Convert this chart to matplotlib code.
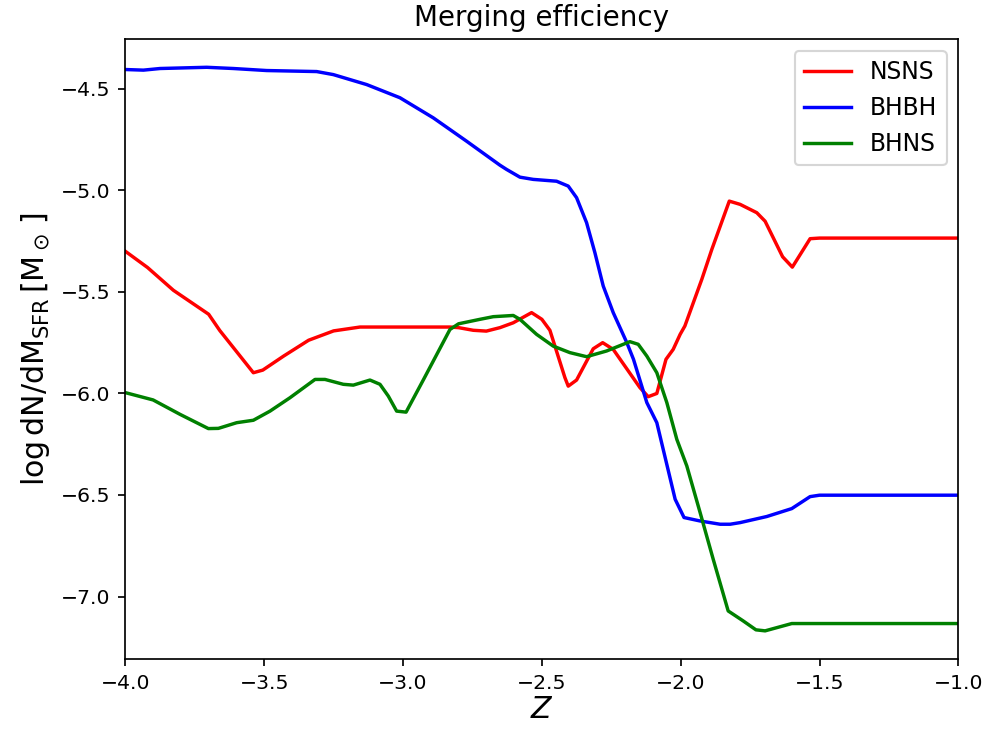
import numpy as np
import matplotlib
matplotlib.use('Agg')
import matplotlib.pyplot as plt

# NSNS
z_nsns = [-4.0, -3.92, -3.827, -3.70, -3.66, -3.539, -3.505, -3.43, -3.34, -3.25, -3.155,
          -2.83, -2.80, -2.747, -2.70, -2.651, -2.603, -2.537, -2.50, -2.471, -2.417,
          -2.405, -2.375, -2.315, -2.281, -2.243, -2.147, -2.117, -2.086, -2.053, -2.027,
          -2.002, -1.985, -1.924, -1.888, -1.825, -1.786, -1.726, -1.696, -1.633, -1.598,
          -1.534, -1.50, -1.0]
n_nsns = [-5.30, -5.38, -5.492, -5.61, -5.69, -5.898, -5.885, -5.816, -5.738, -5.692, -5.673,
          -5.673, -5.676, -5.689, -5.693, -5.676, -5.652, -5.602, -5.635, -5.689, -5.922,
          -5.964, -5.934, -5.78, -5.75, -5.783, -5.971, -6.016, -6.0, -5.832, -5.783,
          -5.709, -5.668, -5.438, -5.291, -5.053, -5.069, -5.11, -5.152, -5.327, -5.378,
          -5.238, -5.235, -5.235]

# BHBH
z_bhbh = [-4.0, -3.935, -3.875, -3.707, -3.611, -3.491, -3.311, -3.251, -3.131, -3.011,
          -2.891, -2.771, -2.651, -2.627, -2.579, -2.531, -2.447, -2.405, -2.375, -2.339,
          -2.309, -2.279, -2.243, -2.194, -2.170, -2.122, -2.086, -2.02, -1.988, -1.930,
          -1.858, -1.822, -1.786, -1.690, -1.600, -1.534, -1.50, -1.0]
n_bhbh = [-4.405, -4.408, -4.40, -4.394, -4.40, -4.41, -4.415, -4.43, -4.479, -4.544,
          -4.643, -4.758, -4.876, -4.897, -4.935, -4.946, -4.955, -4.979, -5.036, -5.159,
          -5.307, -5.471, -5.602, -5.75, -5.832, -6.045, -6.144, -6.521, -6.611, -6.628,
          -6.644, -6.644, -6.636, -6.606, -6.567, -6.508, -6.501, -6.501]

# BHNS
z_bhns = [-4.0, -3.90, -3.803, -3.701, -3.665, -3.599, -3.539, -3.479, -3.407, -3.317,
          -3.281, -3.215, -3.179, -3.119, -3.083, -3.053, -3.023, -2.989, -2.926, -2.831,
          -2.80, -2.723, -2.675, -2.603, -2.579, -2.519, -2.459, -2.399, -2.339, -2.267,
          -2.183, -2.153, -2.122, -2.086, -2.050, -2.014, -1.978, -1.930, -1.883, -1.829,
          -1.775, -1.729, -1.696, -1.600, -1.0]
n_bhns = [-5.996, -6.032, -6.103, -6.173, -6.172, -6.144, -6.132, -6.087, -6.021, -5.931,
          -5.931, -5.955, -5.959, -5.934, -5.955, -6.013, -6.087, -6.092, -5.931, -5.685,
          -5.657, -5.635, -5.622, -5.616, -5.635, -5.709, -5.767, -5.799, -5.819, -5.791,
          -5.745, -5.758, -5.816, -5.898, -6.045, -6.226, -6.357, -6.587, -6.816, -7.071,
          -7.12, -7.164, -7.169, -7.133, -7.133]

dpi = 154
fig = plt.figure(figsize=(987/dpi, 738/dpi), dpi=dpi)
ax = fig.add_axes([0.127, 0.107, 0.844, 0.840])

ax.plot(z_nsns, n_nsns, '-', color='red', linewidth=1.6, label='NSNS')
ax.plot(z_bhbh, n_bhbh, '-', color='blue', linewidth=1.6, label='BHBH')
ax.plot(z_bhns, n_bhns, '-', color='green', linewidth=1.6, label='BHNS')

ax.set_xlim(-4, -1)
ax.set_xlabel(r'$Z$', fontsize=14, labelpad=1)
ax.set_ylabel(r'$\log\mathrm{dN/dM_{SFR}}\,[\mathrm{M}_\odot\,]$', fontsize=14)
ax.set_title('Merging efficiency', fontsize=13)
ax.tick_params(labelsize=9.5)
ax.legend(loc='upper right', fontsize=11)

plt.savefig('out.png', dpi=dpi)
